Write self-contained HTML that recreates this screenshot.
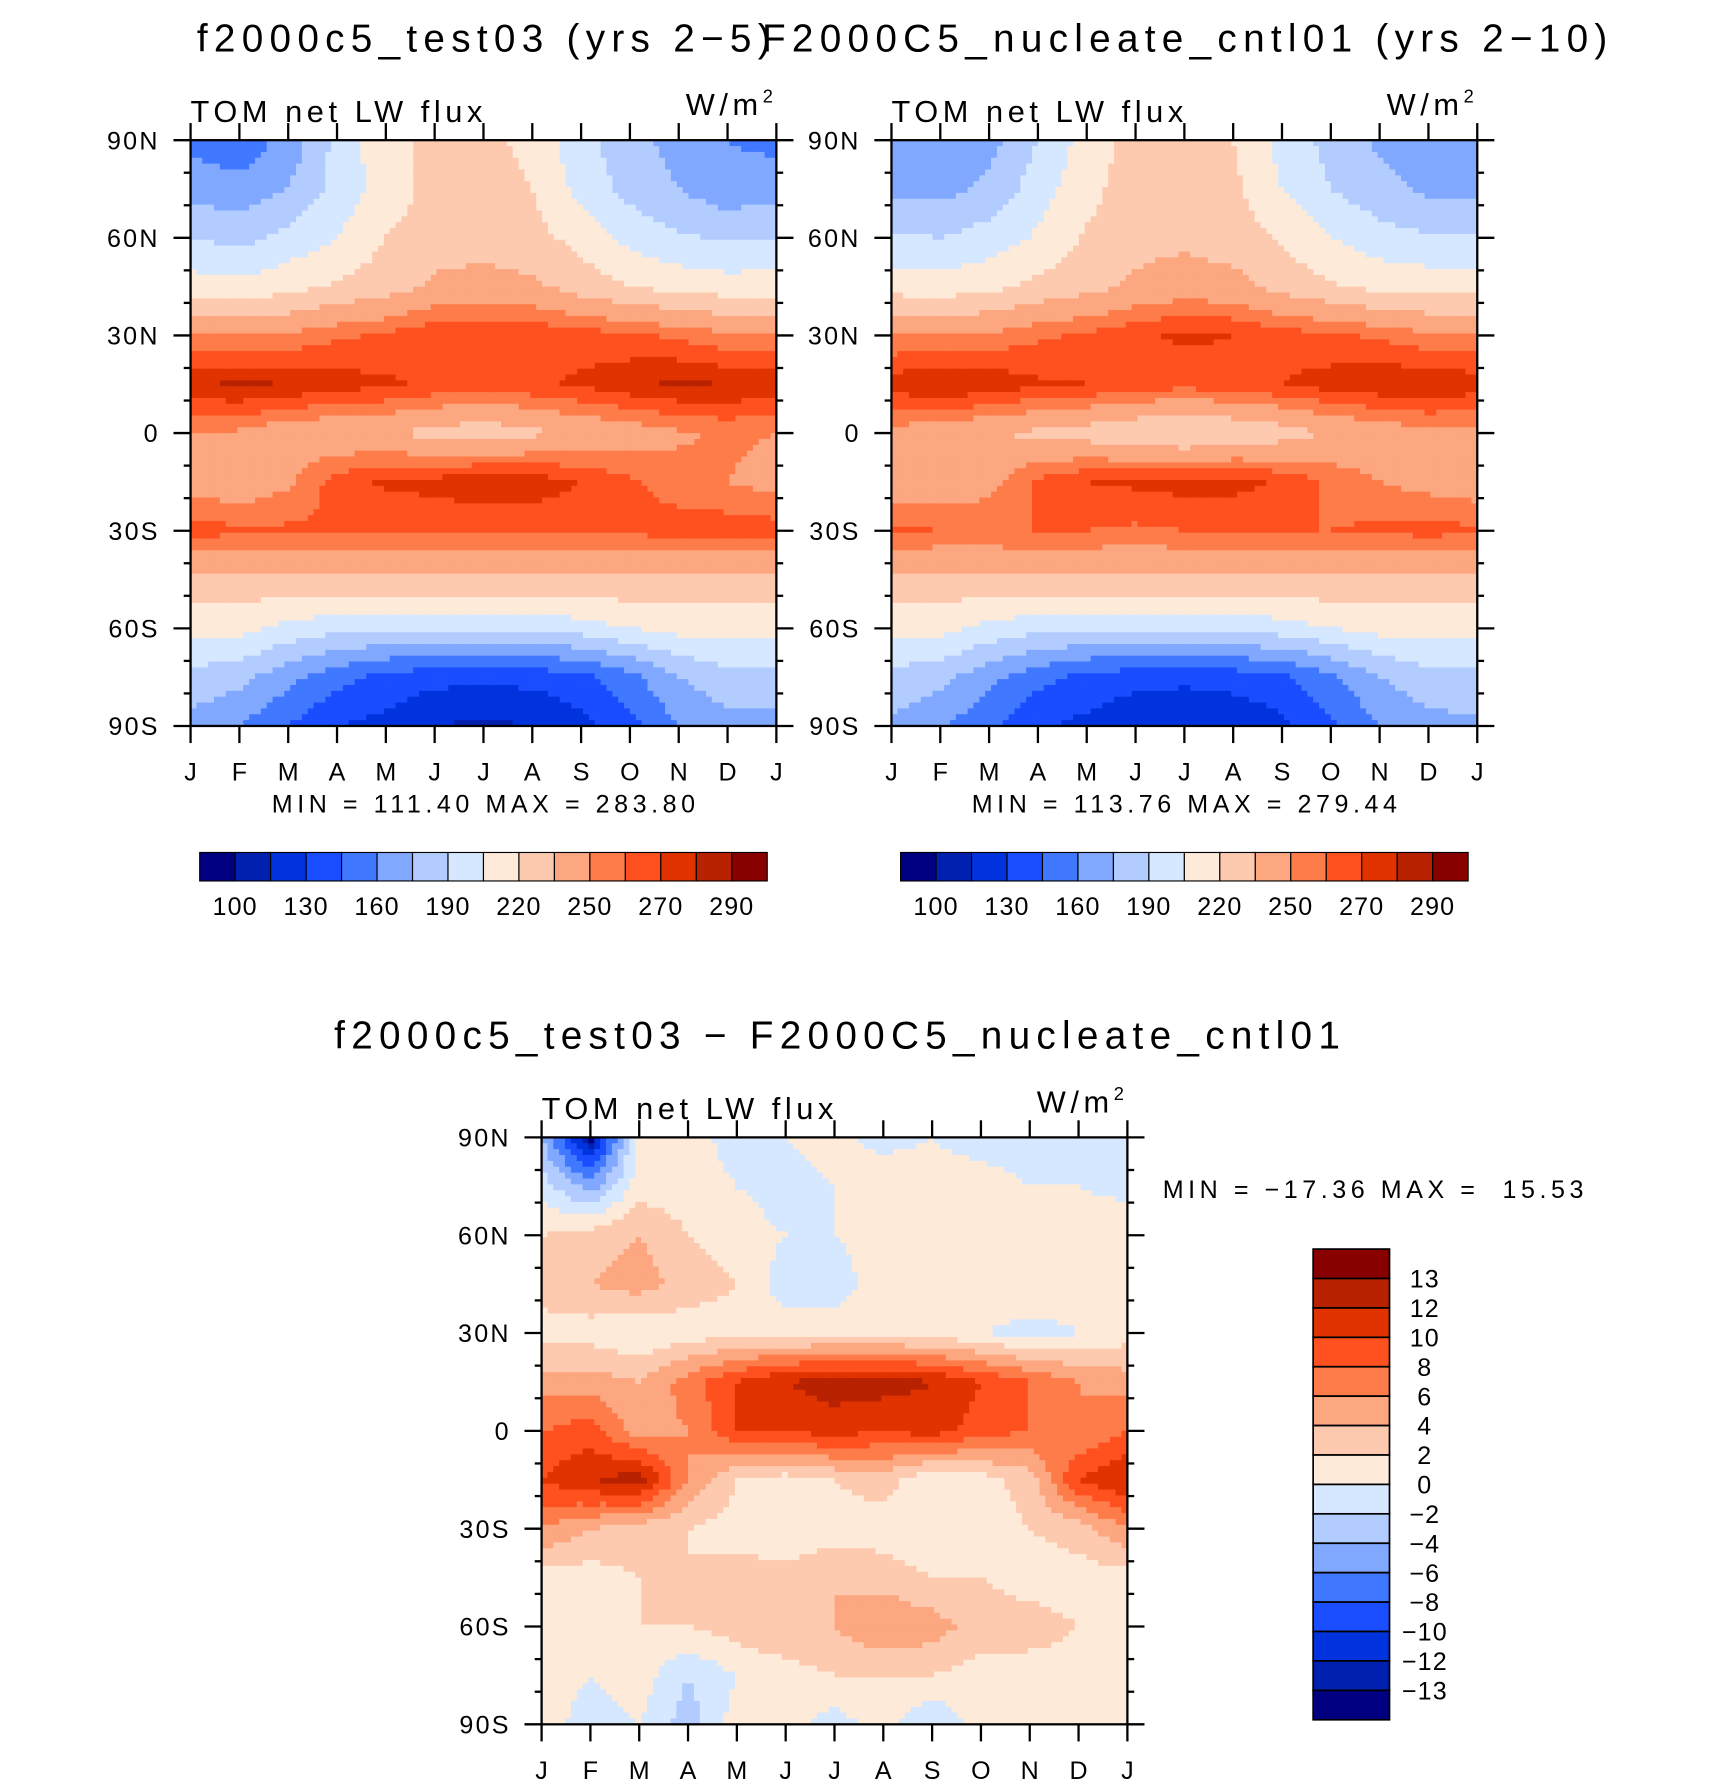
<!DOCTYPE html>
<html><head><meta charset="utf-8"><style>
html,body{margin:0;padding:0;background:#fff;}
svg{display:block;font-family:"Liberation Sans",sans-serif;}
text{white-space:pre;}
</style></head><body>
<svg id="root" width="1710" height="1787" viewBox="0 0 1500 1568" xmlns="http://www.w3.org/2000/svg">
<rect width="1500" height="1568" fill="#fff"/>
<g id="layer"></g>
</svg>
<script>
const months = ["J","F","M","A","M","J","J","A","S","O","N","D","J"];
const latLabels = ["90N","60N","30N","0","30S","60S","90S"];
const lats = [90,75,60,45,30,15,0,-15,-30,-45,-60,-75,-90];
const colors = ["#000080","#0020b0","#0033dd","#1a4dff","#4078ff","#80a8ff","#b3ccff","#d6e8ff","#feead8","#fdcab0","#fca780","#fd7c4a","#ff5020","#e03300","#b82200","#880000"];
const levelsAbs = [100,115,130,145,160,175,190,205,220,235,250,260,270,280,290];
const levelsAbsLabels = ["100","130","160","190","220","250","270","290"];
const levelsDiff = [-13,-12,-10,-8,-6,-4,-2,0,2,4,6,8,10,12,13];
const levelsDiffLabels = ["−13","−12","−10","−8","−6","−4","−2","0","2","4","6","8","10","12","13"];
const fieldTest = [
[155,150,165,195,215,225,225,215,195,180,170,160,155],
[170,165,175,195,212,225,228,220,200,185,175,165,170],
[190,185,195,205,220,228,230,225,215,200,192,188,190],
[212,210,215,222,228,238,240,238,228,220,215,212,212],
[250,250,252,258,262,268,270,268,265,262,258,252,250],
[278,282,280,275,272,268,265,268,272,278,282,280,278],
[250,248,240,238,236,230,226,232,238,242,248,252,250],
[245,240,248,265,272,274,278,276,270,262,255,250,245],
[265,262,262,262,262,260,262,262,262,262,265,266,265],
[230,230,230,232,232,232,232,232,232,232,230,230,230],
[210,210,200,195,193,193,193,195,198,205,210,210,210],
[185,180,165,150,140,135,133,135,140,155,175,185,185],
[170,160,145,130,125,115,112,115,125,140,160,170,170]];
const fieldCntl = [
[160,165,170,190,212,225,228,220,200,185,172,165,160],
[170,170,178,198,215,228,230,224,205,190,180,172,170],
[192,190,197,207,222,230,232,228,218,205,196,192,192],
[214,212,216,224,230,238,242,240,230,222,216,214,214],
[250,250,252,258,262,268,272,270,265,262,258,252,250],
[276,280,278,272,270,266,264,266,270,275,278,280,276],
[245,242,236,232,228,222,218,222,228,236,242,246,245],
[242,240,245,262,270,272,274,274,268,258,250,245,242],
[262,260,260,260,260,258,260,260,260,260,262,264,262],
[230,230,230,232,232,232,232,232,232,232,230,230,230],
[210,210,200,195,193,193,193,195,198,205,210,210,210],
[185,180,165,150,140,136,134,136,142,156,175,185,185],
[172,162,148,132,126,118,114,118,126,142,160,170,172]];
const fieldDiff = [
[-4,-14,1,1,-1,0,1,-1,0,-1,-1,0,-2],
[-1,-5,1,1,0,-1,0,2,1,1,0,0,-1],
[2,3,4,2,1,0,0,1,2,0,2,2,2],
[3,4,5,3,2,-1,-1,1,2,2,2,1,2],
[1,1,0,1,1,1,1,1,1,0,-1,0,1],
[5,5,4,7,10,12,13,13,12,10,8,6,5],
[8,9,5,6,10,10,11,10,11,9,8,6,8],
[10,12,13,6,2,1,2,3,0,1,3,10,12],
[6,4,3,2,1,0,1,1,0,1,2,3,6],
[1,1,2,2,3,3,4,3,2,2,1,1,1],
[2,2,2,2,3,4,4,6,5,3,3,2,2],
[1,0,1,-2,0,1,2,2,2,1,1,1,1],
[1,-1,0,-3,1,1,-1,1,-2,1,1,1,1]];

const NS="http://www.w3.org/2000/svg";
const layer=document.getElementById('layer');
function el(tag,attrs,parent){const e=document.createElementNS(NS,tag);for(const k in attrs)e.setAttribute(k,attrs[k]);(parent||layer).appendChild(e);return e;}
function txt(s,x,y,size,anchor,parent,ls){const t=el('text',{x:x,y:y,'font-size':size,'text-anchor':anchor||'start',fill:'#000','letter-spacing':ls||0},parent);t.textContent=s;return t;}
function colorIdx(v,levels){let i=0;while(i<levels.length&&v>=levels[i])i++;return i;}
function sample(f,mx,la){
  const r=(90-la)/15, r0=Math.min(11,Math.floor(r)), fr=r-r0;
  const c0=Math.min(11,Math.floor(mx)), fc=mx-c0;
  const a=f[r0][c0]*(1-fc)+f[r0][c0+1]*fc, b=f[r0+1][c0]*(1-fc)+f[r0+1][c0+1]*fc;
  return a*(1-fr)+b*fr;
}
function plot(x0,y0,w,h,field,levels,name){
  const g=el('g',{});
  
  
  const xS=m=>x0+m/12*w, yS=l=>y0+(90-l)/180*h;
  const NX=100,NY=100;
  for(let i=0;i<NX;i++)for(let j=0;j<NY;j++){
    const m=(i+0.5)/NX*12, l=90-(j+0.5)/NY*180;
    const v=sample(field,m,l);
    const r=el('rect',{x:xS(i/NX*12),y:yS(90-j/NY*180),width:w/NX+0.6,height:h/NY+0.6,fill:colors[colorIdx(v,levels)]},g);
    
    
  }
  el('rect',{x:x0,y:y0,width:w,height:h,fill:'none',stroke:'#000','stroke-width':2},g);
  for(let k=0;k<13;k++){
    const x=xS(k);
    el('line',{x1:x,x2:x,y1:y0,y2:y0-15,stroke:'#000','stroke-width':2},g);
    el('line',{x1:x,x2:x,y1:y0+h,y2:y0+h+15,stroke:'#000','stroke-width':2},g);
    const t=txt(months[k],x,y0+h+48,22,'middle',g);
    
    
  }
  for(let l=-90;l<=90;l+=10){
    const y=yS(l), major=(l%30===0);
    const len=major?15:6;
    el('line',{x1:x0,x2:x0-len,y1:y,y2:y,stroke:'#000','stroke-width':2},g);
    el('line',{x1:x0+w,x2:x0+w+len,y1:y,y2:y,stroke:'#000','stroke-width':2},g);
  }
  latLabels.forEach((s,k)=>{const t=txt(s,x0-27,yS(90-k*30)+8,22,'end',g,2);
    
    });
  const st=txt('TOM net LW flux',x0,y0-16,27,'start',g,4);
  
  
  const u=txt('W/m',x0+w-12,y0-22,27,'end',g,4);
  
  
  txt('2',x0+w-3,y0-33,16,'end',g);
  return {xS,yS};
}
function hbar(x0,y0,w,h,levels,labels){
  const g=el('g',{});
  
  
  const bw=w/colors.length;
  colors.forEach((c,i)=>{const r=el('rect',{x:x0+i*bw,y:y0,width:bw,height:h,fill:c,stroke:'#000','stroke-width':1},g);
    
    });
  labels.forEach((s,k)=>{const t=txt(s,x0+(2*k+1)*bw,y0+h+30,22,'middle',g,1);
    
    });
}
function vbar(x0,y0,w,h,labels){
  const g=el('g',{});
  
  
  const bh=h/colors.length;
  colors.slice().reverse().forEach((c,i)=>{const r=el('rect',{x:x0,y:y0+i*bh,width:w,height:bh,fill:c,stroke:'#000','stroke-width':1.5},g);
    
    });
  labels.slice().reverse().forEach((s,k)=>{const t=txt(s,x0+w+31,y0+(k+1)*bh+8,22,'middle',g,1);
    
    });
}
plot(167,123,514,514,fieldTest,levelsAbs,'panel-test');
plot(782,123,514,514,fieldCntl,levelsAbs,'panel-cntl');
plot(475,998,514,515,fieldDiff,levelsDiff,'panel-diff');
let t;
t=txt('f2000c5_test03 (yrs 2−5)',427,45,34,'middle',null,5.5);
t=txt('F2000C5_nucleate_cntl01 (yrs 2−10)',1042,45,34,'middle',null,5.5);
t=txt('f2000c5_test03 − F2000C5_nucleate_cntl01',737,920,34,'middle',null,5.5);
t=txt('MIN = 111.40 MAX = 283.80',426,713,22,'middle',null,4);
t=txt('MIN = 113.76 MAX = 279.44',1041,713,22,'middle',null,4);
t=txt('MIN = −17.36 MAX =  15.53',1020,1051,22,'start',null,4);
hbar(175,748,498,25,levelsAbs,levelsAbsLabels);
hbar(790,748,498,25,levelsAbs,levelsAbsLabels);
vbar(1152,1096,67,413,levelsDiffLabels);
</script>
</body></html>
